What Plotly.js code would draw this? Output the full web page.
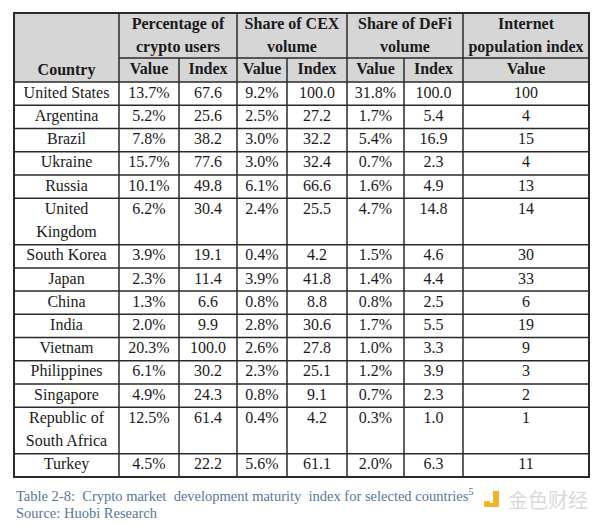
<!DOCTYPE html>
<html>
<head>
<meta charset="utf-8">
<script src="https://cdn.plot.ly/plotly-3.0.1.min.js"></script>
<style>
  body { margin: 0; background: #ffffff; }
  #chart { width: 600px; height: 525px; }
</style>
</head>
<body>
<div id="chart"></div>
<script>
// table data
var countries = ["United States", "Argentina", "Brazil", "Ukraine", "Russia", "United<br>Kingdom",
    "South Korea", "Japan", "China", "India", "Vietnam", "Philippines", "Singapore",
    "Republic of<br>South Africa", "Turkey"];
var usersValue = ["13.7%", "5.2%", "7.8%", "15.7%", "10.1%", "6.2%", "3.9%", "2.3%", "1.3%", "2.0%", "20.3%", "6.1%", "4.9%", "12.5%", "4.5%"];
var usersIndex = [67.6, 25.6, 38.2, 77.6, 49.8, 30.4, 19.1, 11.4, 6.6, 9.9, 100.0, 30.2, 24.3, 61.4, 22.2];
var cexValue = ["9.2%", "2.5%", "3.0%", "3.0%", "6.1%", "2.4%", "0.4%", "3.9%", "0.8%", "2.8%", "2.6%", "2.3%", "0.8%", "0.4%", "5.6%"];
var cexIndex = [100.0, 27.2, 32.2, 32.4, 66.6, 25.5, 4.2, 41.8, 8.8, 30.6, 27.8, 25.1, 9.1, 4.2, 61.1];
var defiValue = ["31.8%", "1.7%", "5.4%", "0.7%", "1.6%", "4.7%", "1.5%", "1.4%", "0.8%", "1.7%", "1.0%", "1.2%", "0.7%", "0.3%", "2.0%"];
var defiIndex = [100.0, 5.4, 16.9, 2.3, 4.9, 14.8, 4.6, 4.4, 2.5, 5.5, 3.3, 3.9, 2.3, 1.0, 6.3];
var internetIndex = [100, 4, 15, 4, 13, 14, 30, 33, 6, 19, 9, 3, 2, 1, 11];

var groupTitles = ["Percentage of<br>crypto users", "Share of CEX<br>volume", "Share of DeFi<br>volume", "Internet<br>population index"];
var subTitles = ["Value", "Index", "Value", "Index", "Value", "Index", "Value"];

// layout in pixels
var colEdges = [14, 119, 179, 237, 287, 347, 404, 463, 589];
var headTop = 13, headMid = 58, bodyTop = 82, bodyBottom = 477;
var serif = "Liberation Serif";

// row positions, two-line rows take double height
var nLines = countries.map(function(c){ return c.split("<br>").length; });
var totalLines = nLines.reduce(function(a, b){ return a + b; }, 0);
var unit = (bodyBottom - bodyTop) / totalLines;
var rowTops = [];
var rowY = bodyTop;
for (var i = 0; i < countries.length; i++) {
    rowTops.push(rowY);
    rowY += nLines[i] * unit;
}

function center(k){ return (colEdges[k] + colEdges[k + 1]) / 2; }
function fmt1(v){ return v.toFixed(1); }

var traces = [];
var bodyFont = {family: serif, size: 16, color: "#1a1a1a"};

// country column, one point per line of text
var cx = [], cy = [], ct = [];
countries.forEach(function(c, r){
    c.split("<br>").forEach(function(part, j){
        cx.push(center(0));
        cy.push(rowTops[r] + unit * (j + 0.5));
        ct.push(part);
    });
});
traces.push({x: cx, y: cy, text: ct, mode: "text", type: "scatter", textfont: bodyFont,
    hoverinfo: "none", cliponaxis: false, showlegend: false});

var columns = [usersValue, usersIndex.map(fmt1), cexValue, cexIndex.map(fmt1),
    defiValue, defiIndex.map(fmt1), internetIndex.map(String)];
columns.forEach(function(col, k){
    traces.push({
        x: col.map(function(){ return center(k + 1); }),
        y: rowTops.map(function(t){ return t + unit / 2; }),
        text: col, mode: "text", type: "scatter", textfont: bodyFont,
        hoverinfo: "none", cliponaxis: false, showlegend: false
    });
});

// header text
var headFont = {family: serif, size: 16, color: "#1a1a1a"};
var hx = [center(0)], hy = [71], ht = ["<b>Country</b>"];
subTitles.forEach(function(s, k){
    hx.push(center(k + 1)); hy.push(70); ht.push("<b>" + s + "</b>");
});
var groupEdges = [[1, 3], [3, 5], [5, 7], [7, 8]];
groupTitles.forEach(function(g, k){
    var xm = (colEdges[groupEdges[k][0]] + colEdges[groupEdges[k][1]]) / 2;
    g.split("<br>").forEach(function(part, j){
        hx.push(xm); hy.push(25 + j * 22.5); ht.push("<b>" + part + "</b>");
    });
});
traces.push({x: hx, y: hy, text: ht, mode: "text", type: "scatter", textfont: headFont,
    hoverinfo: "none", cliponaxis: false, showlegend: false});

// grid shapes
var lineCol = "#2a2a2a";
var shapes = [
    {type: "rect", x0: colEdges[0], x1: colEdges[8], y0: headTop, y1: bodyTop,
        fillcolor: "#d6d6d6", line: {width: 0}, layer: "below"}
];
// horizontal lines
shapes.push({type: "line", x0: colEdges[1], x1: colEdges[8], y0: headMid, y1: headMid, line: {color: lineCol, width: 1.5}});
shapes.push({type: "line", x0: colEdges[0], x1: colEdges[8], y0: bodyTop, y1: bodyTop, line: {color: lineCol, width: 1.5}});
rowTops.slice(1).forEach(function(t){
    shapes.push({type: "line", x0: colEdges[0], x1: colEdges[8], y0: t, y1: t, line: {color: lineCol, width: 1.5}});
});
// vertical lines, the Value/Index splits start below the group titles
for (var k = 1; k < colEdges.length - 1; k++) {
    var lineTop = (k % 2 === 0 && k < 7) ? headMid : headTop;
    shapes.push({type: "line", x0: colEdges[k], x1: colEdges[k], y0: lineTop, y1: bodyBottom, line: {color: lineCol, width: 1.5}});
}
// outer border
shapes.push({type: "rect", x0: colEdges[0], x1: colEdges[8], y0: headTop, y1: bodyBottom, line: {color: lineCol, width: 2}});

// watermark icon
shapes.push({type: "rect", x0: 484, x1: 490, y0: 501, y1: 507, fillcolor: "#f0b429", line: {width: 0}});
shapes.push({type: "rect", x0: 493, x1: 499, y0: 491, y1: 507, fillcolor: "#f0b429", line: {width: 0}});
shapes.push({type: "rect", x0: 484, x1: 499, y0: 503, y1: 507, fillcolor: "#f0b429", line: {width: 0}});
shapes.forEach(function(s){ s.xref = "x"; s.yref = "y"; });

var capCol = "#56789a";
var layout = {
    width: 600, height: 525,
    margin: {l: 0, r: 0, t: 0, b: 0},
    paper_bgcolor: "#ffffff", plot_bgcolor: "#ffffff",
    xaxis: {range: [0, 600], visible: false, fixedrange: true},
    yaxis: {range: [525, 0], visible: false, fixedrange: true},
    shapes: shapes,
    annotations: [
        {x: 14, y: 495, xref: "x", yref: "y", xanchor: "left", yanchor: "middle", showarrow: false,
            text: "Table 2-8:&nbsp; Crypto market&nbsp; development maturity&nbsp; index for selected countries<sup>5</sup>",
            font: {family: serif, size: 14.5, color: capCol}},
        {x: 14, y: 513, xref: "x", yref: "y", xanchor: "left", yanchor: "middle", showarrow: false,
            text: "Source: Huobi Research", font: {family: serif, size: 14.5, color: capCol}},
        {x: 506, y: 499, xref: "x", yref: "y", xanchor: "left", yanchor: "middle", showarrow: false,
            text: "金色财经", font: {family: "Noto Sans CJK SC", size: 20, color: "#dadada"}}
    ]
};

Plotly.newPlot("chart", traces, layout, {displayModeBar: false, staticPlot: true});
</script>
</body>
</html>
